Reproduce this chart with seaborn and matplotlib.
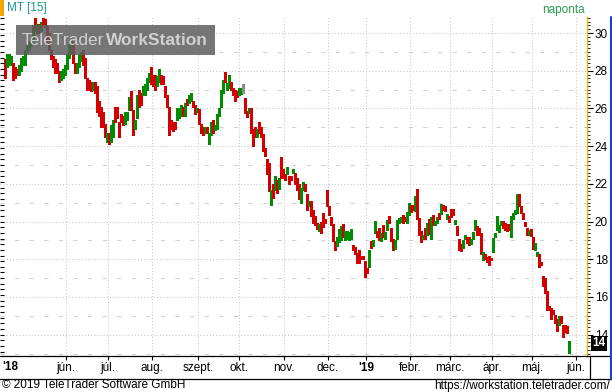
import numpy as np
import pandas as pd
import matplotlib
matplotlib.use("Agg")
import matplotlib.pyplot as plt
import seaborn as sns
from matplotlib.patches import Rectangle
from matplotlib.lines import Line2D
from matplotlib.ticker import MultipleLocator

# ---------------- data (daily candles) ----------------
opens = [
    28.5, 28.3, 28.4, 28.5, 28.3, 28.1, 28.05, 27.9, 28.1, 28.4,
    28.4, 29.1, 29.2, 29.4, 29.6, 30.6, 30.1, 30.4, 30.2, 30.65,
    30.6, 30.25, 29.9, 29.0, 28.7, 28.5, 28.3, 27.95, 27.6, 27.7,
    27.9, 28.15, 28.8, 29.0, 29.4, 28.3, 28.0, 28.3, 28.6, 29.0,
    28.65, 27.5, 27.4, 27.3, 27.1, 27.3, 27.15, 26.35, 26.0, 25.7,
    25.1, 24.35, 24.6, 24.3, 24.6, 26.0, 26.0, 25.2, 25.65, 25.5,
    25.3, 25.5, 26.0, 26.8, 25.8, 25.0, 25.6, 26.9, 26.7, 26.8,
    26.8, 27.1, 27.5, 28.1, 27.75, 27.75, 27.3, 27.5, 27.75, 27.6,
    27.15, 26.6, 26.0, 25.35, 25.2, 25.2, 25.45, 25.6, 25.7, 26.0,
    25.7, 26.4, 26.4, 26.45, 26.35, 26.1, 25.85, 25.9, 25.1, 24.95,
    24.8, 24.9, 24.2, 24.65, 25.3, 24.9, 24.95, 25.7, 26.45, 26.9,
    27.75, 27.15, 27.15, 27.3, 27.05, 26.95, 26.9, 26.8, 26.8, 26.8,
    26.5, 25.8, 25.8, 26.0, 24.85, 24.95, 24.6, 24.95, 24.95, 24.6,
    23.85, 23.25, 23.05, 21.3, 21.9, 21.75, 22.1, 21.8, 23.05, 22.7,
    22.45, 22.6, 22.3, 22.35, 22.65, 22.55, 22.25, 21.9, 21.45, 21.75,
    21.9, 21.4, 20.85, 21.0, 20.5, 20.25, 19.85, 19.6, 19.95, 20.4,
    20.1, 21.65, 20.75, 20.05, 19.8, 18.9, 19.0, 19.15, 19.25, 19.8,
    19.25, 19.25, 19.2, 19.2, 18.7, 18.6, 18.3, 18.45, 18.15, 18.15,
    17.85, 17.5, 17.65, 18.9, 18.75, 19.45, 19.45, 19.6, 19.0, 19.5,
    19.15, 19.6, 20.25, 19.6, 19.0, 18.6, 19.15, 19.95, 20.1, 20.3,
    20.2, 20.05, 20.4, 20.85, 20.85, 20.6, 21.2, 20.15, 19.45, 19.1,
    19.6, 19.35, 20.1, 19.35, 20.3, 19.85, 19.95, 20.4, 20.45, 20.85,
    20.8, 20.25, 20.25, 20.6, 20.6, 19.95, 19.7, 19.05, 18.75, 18.7,
    19.2, 19.15, 19.15, 18.85, 19.1, 19.6, 19.7, 19.6, 19.35, 18.15,
    18.2, 18.05, 18.1, 18.02, 18.45, 19.25, 19.6, 19.65, 19.85, 20.0,
    19.9, 19.8, 19.8, 19.5, 20.2, 20.45, 20.5, 21.4, 20.8, 20.4,
    19.95, 19.6, 19.35, 19.55, 19.15, 18.6, 18.25, 18.25, 17.8, 17.0,
    16.95, 16.25, 15.45, 15.35, 15.2, 15.0, 14.8, 14.55, 14.95, 14.35,
    14.3, 14.25, 13.1,
]
highs = [
    28.6, 28.9, 28.9, 28.8, 28.4, 28.2, 28.1, 28.3, 28.7, 28.8,
    29.1, 29.4, 29.6, 29.7, 30.4, 30.8, 30.5, 30.5, 30.6, 30.8,
    30.75, 30.35, 30.0, 29.1, 28.8, 28.6, 28.4, 28.0, 28.0, 28.1,
    28.3, 28.9, 29.4, 29.6, 29.5, 28.4, 28.4, 28.9, 29.0, 29.1,
    28.7, 27.6, 27.5, 27.4, 27.4, 27.4, 27.2, 26.4, 26.1, 25.8,
    25.2, 24.7, 24.7, 25.1, 25.4, 26.1, 26.1, 25.3, 25.7, 25.6,
    25.8, 25.8, 26.6, 26.9, 25.9, 25.4, 26.7, 27.0, 26.8, 27.2,
    27.3, 27.6, 27.9, 28.2, 27.8, 27.8, 27.7, 28.1, 27.8, 27.7,
    27.2, 26.7, 26.1, 25.4, 25.3, 25.3, 26.0, 26.0, 26.2, 26.1,
    26.3, 26.5, 26.7, 26.8, 26.4, 26.2, 26.0, 25.95, 25.2, 25.0,
    25.0, 25.0, 24.7, 25.3, 25.4, 25.1, 25.7, 26.0, 27.0, 27.5,
    27.95, 27.35, 27.8, 27.4, 27.1, 27.0, 26.95, 27.1, 27.1, 27.3,
    26.55, 25.85, 26.05, 26.05, 24.9, 25.0, 24.9, 25.3, 25.0, 24.65,
    23.9, 23.3, 23.1, 21.7, 22.0, 22.4, 22.2, 22.3, 23.4, 22.8,
    22.5, 22.9, 22.4, 22.4, 22.8, 22.6, 22.3, 22.0, 21.8, 22.1,
    22.0, 21.45, 21.1, 21.1, 20.6, 20.3, 19.9, 19.85, 20.0, 20.45,
    20.15, 21.7, 20.8, 20.25, 19.85, 18.95, 19.2, 19.6, 19.75, 19.85,
    19.5, 19.5, 19.45, 19.6, 18.75, 18.65, 18.35, 18.5, 18.2, 18.2,
    17.9, 17.55, 18.5, 18.95, 19.0, 20.05, 19.5, 19.65, 19.4, 19.8,
    19.45, 20.1, 20.3, 19.65, 19.05, 19.0, 20.1, 20.2, 20.25, 20.35,
    20.25, 20.5, 21.0, 20.9, 20.9, 21.35, 21.75, 20.2, 19.5, 19.3,
    19.65, 19.9, 20.15, 20.25, 20.35, 20.05, 20.25, 20.45, 20.95, 20.9,
    20.85, 20.4, 20.3, 20.65, 20.65, 20.1, 19.75, 19.1, 18.8, 19.0,
    19.3, 19.2, 19.2, 19.1, 19.45, 20.1, 19.75, 19.65, 19.4, 18.4,
    18.3, 18.1, 18.15, 18.05, 19.15, 19.4, 20.3, 19.8, 20.05, 20.05,
    19.95, 19.85, 19.85, 20.3, 20.45, 20.6, 21.45, 21.45, 20.85, 20.45,
    20.0, 19.65, 19.55, 19.6, 19.2, 18.85, 18.4, 18.3, 17.85, 17.1,
    17.0, 16.3, 15.5, 15.4, 15.3, 15.05, 14.85, 15.0, 15.0, 14.5,
    14.5, 14.45, 13.65,
]
lows = [
    27.6, 28.2, 28.3, 28.3, 27.5, 27.6, 27.8, 27.8, 28.0, 28.3,
    28.3, 29.0, 29.1, 29.3, 29.5, 30.1, 30.0, 30.0, 30.1, 30.4,
    30.3, 29.5, 29.1, 28.6, 28.2, 27.9, 27.9, 27.4, 27.5, 27.6,
    27.8, 28.1, 28.7, 28.9, 28.4, 27.9, 27.9, 28.2, 28.5, 28.3,
    27.6, 27.0, 27.0, 26.9, 27.0, 26.8, 25.8, 25.6, 25.0, 25.0,
    24.5, 24.2, 24.1, 24.2, 24.5, 25.3, 25.5, 24.5, 25.3, 25.1,
    25.2, 25.4, 25.9, 25.9, 24.6, 24.9, 25.5, 26.1, 26.2, 26.7,
    26.7, 27.0, 27.4, 27.3, 27.2, 27.0, 27.2, 27.4, 27.3, 27.3,
    26.6, 26.1, 24.6, 24.9, 24.8, 24.9, 25.4, 25.5, 25.6, 25.6,
    25.6, 26.2, 26.3, 26.4, 26.1, 25.7, 25.8, 25.2, 24.7, 24.6,
    24.7, 24.7, 24.1, 24.6, 24.7, 24.85, 24.9, 25.6, 26.1, 26.8,
    27.4, 27.0, 27.1, 27.0, 26.7, 26.4, 26.6, 26.7, 26.75, 26.8,
    25.75, 25.55, 25.75, 24.7, 24.0, 24.5, 24.5, 24.7, 24.5, 23.75,
    23.5, 22.5, 21.6, 20.9, 21.25, 21.7, 21.5, 21.75, 22.3, 22.3,
    22.2, 22.5, 22.0, 22.2, 22.6, 22.0, 21.7, 21.2, 21.0, 21.7,
    21.6, 20.6, 20.8, 20.3, 19.9, 19.8, 19.6, 19.5, 19.4, 19.7,
    19.9, 20.8, 20.35, 19.8, 18.95, 18.5, 18.7, 18.9, 19.0, 19.2,
    19.0, 19.1, 19.0, 19.1, 18.5, 18.3, 17.8, 17.8, 18.0, 18.0,
    17.05, 17.25, 17.6, 18.6, 18.7, 19.4, 19.2, 19.0, 18.95, 19.2,
    19.1, 19.55, 19.95, 18.95, 18.5, 18.55, 19.1, 19.9, 20.0, 19.9,
    20.05, 19.95, 20.35, 20.5, 20.6, 20.55, 20.15, 19.3, 18.9, 19.05,
    19.05, 19.3, 19.35, 19.1, 19.8, 19.8, 19.9, 20.15, 20.4, 20.6,
    20.55, 20.15, 20.0, 20.25, 20.35, 19.85, 19.3, 18.5, 18.45, 18.6,
    19.1, 18.85, 18.75, 18.8, 19.05, 19.55, 19.3, 19.3, 18.3, 17.95,
    18.0, 17.85, 17.7, 17.95, 18.4, 19.2, 19.55, 19.45, 19.8, 19.65,
    19.55, 19.5, 19.55, 19.2, 20.15, 20.4, 20.45, 20.8, 20.45, 20.15,
    19.75, 19.3, 19.3, 19.25, 18.55, 18.5, 18.2, 17.6, 17.7, 16.6,
    16.2, 15.3, 15.3, 14.85, 15.1, 14.6, 14.2, 14.5, 14.6, 13.9,
    14.15, 14.1, 13.05,
]
closes = [
    28.05, 28.75, 28.7, 28.75, 27.9, 27.85, 27.9, 28.2, 28.6, 28.6,
    29.0, 29.3, 29.5, 29.55, 30.3, 30.3, 30.4, 30.15, 30.5, 30.55,
    30.5, 29.6, 29.2, 28.7, 28.3, 28.1, 28.1, 27.6, 27.9, 27.95,
    28.2, 28.85, 29.3, 29.4, 28.5, 28.05, 28.35, 28.8, 28.85, 28.4,
    27.95, 27.15, 27.1, 27.05, 27.35, 27.1, 26.0, 25.7, 25.1, 25.15,
    24.7, 24.65, 24.25, 25.0, 25.3, 25.4, 25.65, 24.65, 25.4, 25.2,
    25.7, 25.7, 26.5, 26.0, 25.1, 25.3, 26.6, 26.2, 26.3, 27.15,
    27.2, 27.5, 27.8, 27.4, 27.3, 27.3, 27.6, 28.0, 27.4, 27.4,
    26.7, 26.2, 25.0, 25.0, 25.0, 25.05, 25.9, 25.9, 26.1, 25.7,
    26.2, 26.3, 26.6, 26.65, 26.2, 25.8, 25.95, 25.3, 24.85, 24.75,
    24.9, 24.8, 24.6, 25.2, 24.75, 25.05, 25.65, 25.9, 26.95, 27.3,
    27.5, 27.3, 27.75, 27.05, 26.8, 26.6, 26.65, 27.05, 27.0, 26.8,
    25.8, 25.65, 26.0, 24.75, 24.6, 24.6, 24.85, 24.75, 24.6, 23.8,
    23.6, 22.55, 21.65, 21.65, 21.3, 22.1, 21.65, 22.1, 22.35, 22.45,
    22.35, 22.8, 22.25, 22.3, 22.75, 22.1, 21.75, 21.65, 21.75, 22.0,
    21.7, 20.65, 21.0, 20.4, 19.95, 19.9, 19.65, 19.8, 19.6, 20.05,
    19.95, 20.85, 20.4, 20.0, 19.0, 18.55, 19.15, 19.25, 19.7, 19.5,
    19.35, 19.35, 19.4, 19.35, 18.65, 18.5, 17.9, 17.85, 18.1, 18.1,
    17.65, 17.3, 18.45, 18.7, 18.95, 19.6, 19.25, 19.2, 19.35, 19.25,
    19.35, 20.0, 20.0, 19.0, 18.6, 18.9, 20.05, 20.1, 20.2, 19.95,
    20.1, 20.15, 20.95, 20.6, 20.65, 21.3, 20.2, 19.35, 19.0, 19.25,
    19.1, 19.85, 19.4, 20.2, 19.85, 20.0, 20.2, 20.2, 20.5, 20.65,
    20.6, 20.3, 20.2, 20.3, 20.4, 20.0, 19.35, 18.7, 18.65, 18.95,
    19.25, 18.9, 18.8, 19.05, 19.4, 19.85, 19.35, 19.35, 18.35, 18.2,
    18.05, 18.0, 17.75, 17.98, 19.1, 19.35, 19.8, 19.75, 20.0, 19.7,
    19.6, 19.55, 19.6, 20.05, 20.4, 20.5, 21.3, 20.85, 20.5, 20.2,
    19.8, 19.35, 19.5, 19.3, 18.6, 18.8, 18.35, 17.75, 17.75, 16.65,
    16.25, 15.35, 15.35, 15.3, 15.15, 14.7, 14.45, 14.95, 14.65, 13.95,
    14.25, 14.2, 13.45,
]

month_labels = ["jún.", "júl.", "aug.", "szept.", "okt.", "nov.", "dec.",
                "'19", "febr.", "márc.", "ápr.", "máj.", "jún."]
month_starts = [30.5, 51.5, 73.5, 96.5, 117, 139.5, 161.5, 180.5,
                202.5, 222.5, 243.5, 263.5, 285.5]
price_ticks = [14, 16, 18, 20, 22, 24, 26, 28, 30]
first_year_label = "'18"
title_text = "MT [15]"
period_text = "naponta"
last_price_text = "14"
watermark_a = "TeleTrader"
watermark_b = "WorkStation"
footer_left = "© 2019 TeleTrader Software GmbH"
footer_right = "https://workstation.teletrader.com/"

assert len(opens) == len(highs) == len(lows) == len(closes)

# ---------------- style ----------------
sns.set_theme(style="white")
plt.rcParams['font.family'] = ['Liberation Sans', 'DejaVu Sans']
plt.rcParams['lines.scale_dashes'] = False

W, H = 612, 392
fig = plt.figure(figsize=(W / 100, H / 100), dpi=100)
fig.patch.set_facecolor('white')


def fx(px):
    return px / W


def fy(py):
    return 1 - py / H


ax = fig.add_axes([0, fy(356), fx(587), (356 - 17) / H])
ax.set_facecolor('white')
ax.set_xlim(-2.5, 291)
ax.set_ylim(12.87, 30.85)

# small ticks on the left edge (separate twin axis, created first)
axl = ax.twinx()
axl.set_ylim(ax.get_ylim())
axl.yaxis.set_ticks_position('left')
axl.set_yticks(np.arange(13.1, 30.8, 0.3))
axl.tick_params(axis='y', left=True, right=False, direction='in', length=3,
                width=0.8, color='black', labelleft=False, labelright=False)
for s in axl.spines.values():
    s.set_visible(False)
axl.grid(False)

df = pd.DataFrame({'open': opens, 'high': highs, 'low': lows, 'close': closes})
df['pos'] = np.arange(len(df))
df['trend'] = np.select([df['close'] > df['open'], df['close'] < df['open']],
                        ['up', 'down'], 'flat')
palette = {'up': '#008c00', 'down': '#d40000', 'flat': '#8c8c8c'}
df['color'] = df['trend'].map(palette)

grid_c = '#c8c8c8'
for v in range(14, 31, 2):
    ax.axhline(v, color=grid_c, lw=0.75, ls=(0, (0.75, 1.5)), zorder=0)
for v in range(13, 31, 2):
    ax.axhline(v, color='#d0d0d0', lw=0.75, ls=(0, (3.0, 7.5)), zorder=0)
for m in month_starts:
    ax.axvline(m, color=grid_c, lw=0.75, ls=(0, (0.75, 1.5)), zorder=0)

# wicks + bodies
ax.vlines(df['pos'], df['low'], df['high'], colors=df['color'], lw=0.75,
          zorder=2, antialiased=False)
body_low = df[['open', 'close']].min(axis=1)
body_h = (df['close'] - df['open']).abs().clip(lower=0.06)
ax.bar(df['pos'], body_h, bottom=body_low, width=1.3, color=df['color'],
       lw=0, zorder=3, antialiased=False)

# spines
ax.spines['left'].set_visible(False)
ax.spines['top'].set_visible(False)
ax.spines['right'].set_color('#f0b400')
ax.spines['right'].set_linewidth(1.0)
ax.spines['bottom'].set_color('black')
ax.spines['bottom'].set_linewidth(0.9)

# y axis on the right
ax.yaxis.tick_right()
ax.yaxis.set_label_position('right')
ax.set_yticks(price_ticks)
ax.set_yticklabels([str(t) for t in price_ticks])
ax.yaxis.set_minor_locator(MultipleLocator(0.2))
ax.tick_params(axis='y', which='major', right=True, left=False,
               labelright=True, labelleft=False, length=4,
               width=0.8, color='black', pad=1.5, labelsize=8.5,
               labelcolor='black')
ax.tick_params(axis='y', which='minor', right=True, left=False, length=2,
               width=0.6, color='black')

# x axis
ax.set_xticks(month_starts)
ax.set_xticklabels(month_labels)
ax.tick_params(axis='x', which='major', bottom=True, length=3, width=0.8,
               color='black', pad=1.5, labelsize=8.5, labelcolor='black')
for lbl in ax.get_xticklabels():
    if lbl.get_text().startswith("'"):
        lbl.set_fontweight('bold')
ax.grid(False)

# ---------------- frame pieces ----------------
fig.text(fx(2), fy(366.5), first_year_label, fontsize=8.5, fontweight='bold',
         ha='left', va='center', color='black')
fig.add_artist(Line2D([fx(587), 1], [fy(356), fy(356)], color='black', lw=0.9))
fig.add_artist(Line2D([0, 1], [fy(379), fy(379)], color='black', lw=0.9))
fig.add_artist(Line2D([fx(590), fx(590)], [fy(356), fy(379)], color='black', lw=0.9))
fig.add_artist(Line2D([fx(611), fx(611)], [fy(17), fy(379)], color='#2040c0', lw=1.5))

# header
fig.add_artist(Rectangle((0, fy(16)), fx(4), 16 / H, color='#f7a600', lw=0,
                         transform=fig.transFigure))
fig.text(fx(7), fy(8.5), title_text, fontsize=8.5, color='#1a9a8a',
         ha='left', va='center')
fig.text(fx(585), fy(9.5), period_text, fontsize=8.5, color='#2a9a50',
         ha='right', va='center')

# watermark
fig.add_artist(Rectangle((fx(16), fy(55)), fx(199), 30 / H, color='#5e5e5e',
                         alpha=0.85, lw=0, zorder=10, transform=fig.transFigure))
fig.text(fx(22), fy(40.5), watermark_a, fontsize=12.5, color='#d0d0d0',
         ha='left', va='center', zorder=11)
fig.text(fx(106), fy(40.5), watermark_b, fontsize=12.5, color='#d0d0d0',
         fontweight='bold', ha='left', va='center', zorder=11)

# last price box
fig.add_artist(Rectangle((fx(591), fy(351)), fx(16), 15 / H, color='black',
                         lw=0, zorder=10, transform=fig.transFigure))
fig.text(fx(599), fy(343.5), last_price_text, fontsize=8.5, color='white',
         fontweight='bold', ha='center', va='center', zorder=11)

# footer
fig.text(fx(2), fy(385.5), footer_left, fontsize=8.5, color='black',
         ha='left', va='center')
fig.text(fx(610), fy(385.5), footer_right, fontsize=8.5, color='black',
         ha='right', va='center')

fig.savefig('out.png', dpi=100)
